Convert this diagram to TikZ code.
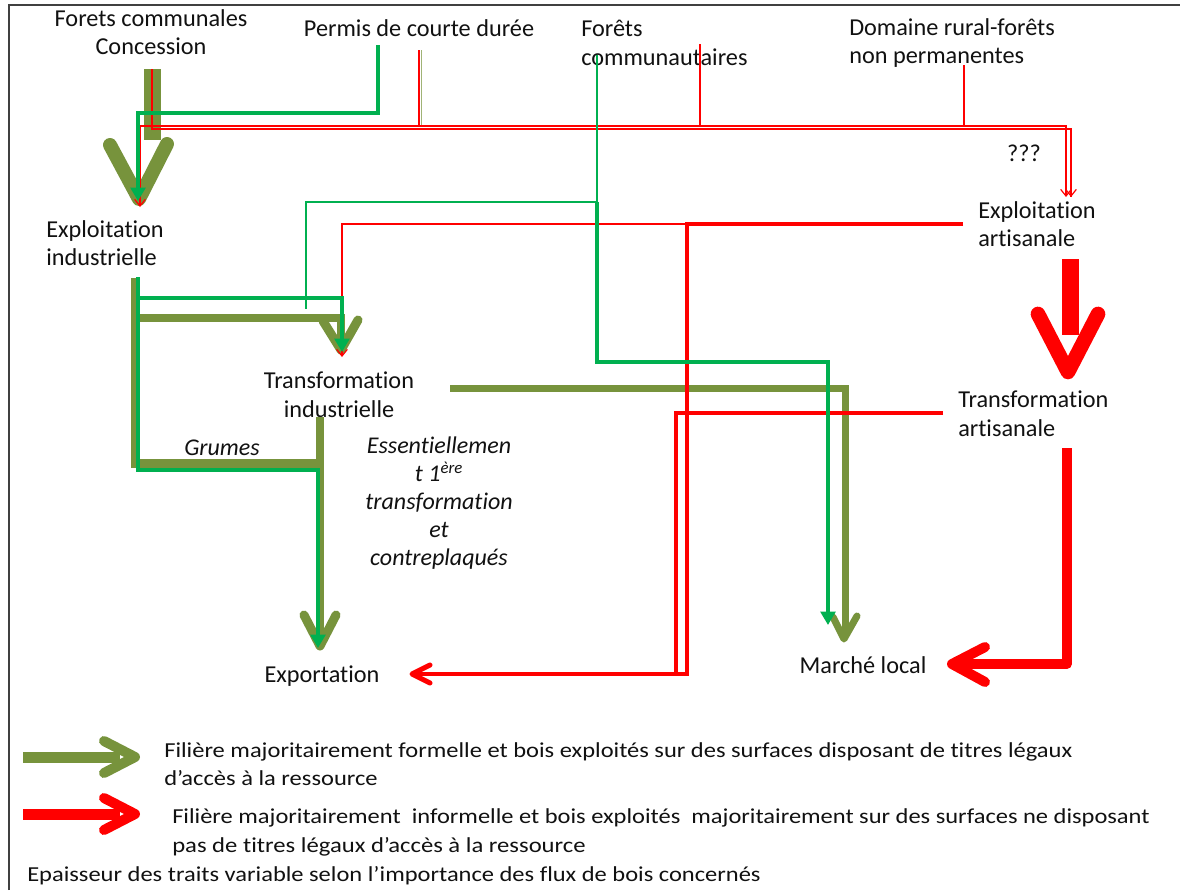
\documentclass[tikz,border=0pt]{standalone}
\usepackage{fontspec}
\setmainfont{Carlito}[Ligatures=NoCommon]
\usepackage{graphicx}
\usetikzlibrary{arrows.meta,calc}
\definecolor{olivec}{HTML}{77933C}
\definecolor{bgreen}{HTML}{00B050}
\definecolor{fred}{HTML}{FF0000}
\definecolor{ink}{HTML}{111111}
\begin{document}
\begin{tikzpicture}[x=0.75pt,y=-0.75pt,
  lbl/.style={inner sep=0pt,text=ink,font=\fontsize{18.2}{21.5}\selectfont},
  ilbl/.style={lbl,font=\fontsize{18}{21}\selectfont\itshape},
  leg/.style={inner sep=0pt,text=ink,anchor=base west,font=\fontsize{16}{20}\selectfont},
  ol/.style={draw=olivec,line cap=butt,line join=miter},
  gr/.style={draw=bgreen,line cap=butt,line join=miter},
  rd/.style={draw=fred,line cap=butt,line join=miter},
  chev/.style={line cap=round,line join=round},
  gtip/.style={-{Triangle[length=10pt,width=11pt]}},
  rtip/.style={-{Straight Barb[length=5pt,width=8pt]}},
  frame/.style={draw=black!75,line width=1.1pt}]
\fill[white] (0,0) rectangle (1183,890);
\useasboundingbox (0,0) rectangle (1183,890);
\draw[frame] (9,890) -- (9,5) -- (1180,5);

% ---------- labels ----------
\node[lbl,align=center] (fc) at (151,32) {Forets communales\\Concession};
\node[lbl,anchor=base] (pcd) at (419,36) {Permis de courte durée};
\node[lbl,align=left,anchor=west] (fcom) at (581,43) {Forêts\\communautaires};
\node[lbl,align=left,anchor=west] (drf) at (849,43) {Domaine rural-forêts\\non permanentes};
\node[lbl,anchor=base] (qqq) at (1024,161) {???};
\node[lbl,align=left,anchor=west] (ei) at (46,243) {Exploitation\\industrielle};
\node[lbl,align=left,anchor=west] (ea) at (978,224) {Exploitation\\artisanale};
\node[lbl,align=center] (ti) at (339,395) {Transformation\\industrielle};
\node[lbl,align=left,anchor=west] (ta) at (958,414) {Transformation\\artisanale};
\node[ilbl,anchor=base] (grm) at (222,455) {Grumes};
\node[ilbl,align=center] (ess) at (439,503) {Essentiellemen\\t 1\textsuperscript{ère}\\transformation\\et\\contreplaqués};
\node[lbl,anchor=base] (exp) at (322,682) {Exportation};
\node[lbl,anchor=base] (ml) at (863,673) {Marché local};

% ---------- named points ----------
\coordinate (cSrc) at (152,69);
\coordinate (pSrc) at (378,45);
\coordinate (pRed) at (419,50);
\coordinate (fSrc) at (597,55);
\coordinate (fRed) at (700,44);
\coordinate (dRed) at (964,65);
\coordinate (eiTip) at (139,199);
\coordinate (eaL) at (1066,197);
\coordinate (eaR) at (1071,197);
\coordinate (eiOut) at (135,278);
\coordinate (tiTip) at (341,350);
\coordinate (tiOut) at (450,388);
\coordinate (tiDown) at (320,417);
\coordinate (expTip) at (320,646);
\coordinate (mlTipO) at (844,639);
\coordinate (mlTipG) at (828,625);
\coordinate (eaOut) at (963,224);
\coordinate (taOut) at (943,413);
\coordinate (expTipR) at (412,674);
\coordinate (taDown) at (1067,448);
\coordinate (mlTipR) at (952,664);

% ---------- olive flows ----------
\draw[ol,line width=12.75pt] (cSrc) -- (152,140);
\draw[ol,chev,line width=10.5pt] (110,145) -- (eiTip) -- (167,144);
\draw[draw=olivec!70,line width=0.6pt] (421,50) -- (421,126);
\draw[ol,line width=6.75pt] (eiOut) -- (135,463) -- (324,463);
\draw[ol,line width=6pt] (135,318) -- (341,318) -- (tiTip);
\draw[ol,chev,line width=6.75pt] (323,321) -- (tiTip) -- (358,320);
\draw[ol,line width=6pt] (tiDown) -- (expTip);
\draw[ol,chev,line width=6.75pt] (304,615) -- (expTip) -- (336,615);
\draw[ol,line width=5.25pt] (tiOut) -- (845,388) -- (845,634);
\draw[ol,chev,line width=5.25pt] (833,617) -- (mlTipO) -- (857,616);

% ---------- red flows ----------
\draw[rd,line width=0.9pt] (cSrc) -- (152,129) -- (1071,129) -- (eaR);
\draw[rd,line width=0.9pt,rtip] (eaR) ++(0,-3) -- (eaR);
\draw[rd,line width=0.9pt,rtip] (140,207) ++(0,-80) -- (140,126) -- (1066,126) -- (eaL);
\draw[rd,line width=0.9pt,rtip] (140,126) -- (140,207);
\draw[rd,line width=0.9pt] (pRed) -- (419,126);
\draw[rd,line width=0.9pt] (fRed) -- (700,126);
\draw[rd,line width=0.9pt] (dRed) -- (964,126);
\draw[rd,line width=0.9pt,rtip] (687,224) -- (342,224) -- (342,357);
\draw[rd,line width=3pt] (eaOut) -- (687,224) -- (687,674) -- (418,674);
\draw[rd,line width=3pt] (taOut) -- (676,413) -- (676,674);
\draw[rd,chev,line width=3.75pt] (430,665) -- (expTipR) -- (430,683);
\draw[rd,line width=12.75pt] (1070,259) -- (1070,335);
\draw[rd,chev,line width=11pt] (1038,314) -- (1068,372) -- (1098,314);
\draw[rd,line width=7pt,line join=round] (taDown) -- (1067,664) -- (958,664);
\draw[rd,chev,line width=7.5pt] (985,647) -- (mlTipR) -- (985,682);

% ---------- bright green flows ----------
\draw[gr,line width=3pt,gtip] (pSrc) -- (378,113) -- (138,113) -- (138,201);
\draw[gr,line width=3pt] (138,277) -- (138,470) -- (318,470);
\draw[gr,line width=3pt,gtip] (318,468) -- (318,648);
\draw[gr,line width=3pt,gtip] (138,298) -- (342,298) -- (342,352);
\draw[gr,line width=1.3pt] (fSrc) -- (597,202) -- (306,202) -- (306,309);
\draw[gr,line width=3pt,gtip] (597,202) -- (597,362) -- (828,362) -- (mlTipG);

% ---------- legend ----------
\draw[ol,line width=8.25pt] (23,757) -- (120,757);
\draw[ol,chev,line width=7.5pt] (104,741) -- (135,757) -- (104,773);
\draw[rd,line width=8.25pt] (23,814) -- (120,814);
\draw[rd,chev,line width=7.5pt] (104,798) -- (135,814) -- (104,830);
\node[leg] (l1a) at (164,757) {\resizebox{681pt}{\height}{Filière majoritairement formelle et bois exploités sur des surfaces disposant de titres légaux}};
\node[leg] (l1b) at (164,785) {\resizebox{160pt}{\height}{d’accès à la ressource}};
\node[leg] (l2a) at (172,823) {\resizebox{733pt}{\height}{Filière majoritairement\ \ informelle et bois exploités\ \ majoritairement sur des surfaces ne disposant}};
\node[leg] (l2b) at (172,852) {\resizebox{310pt}{\height}{pas de titres légaux d’accès à la ressource}};
\node[leg] (l3) at (27,881) {\resizebox{550pt}{\height}{Epaisseur des traits variable selon l’importance des flux de bois concernés}};
\end{tikzpicture}
\end{document}
